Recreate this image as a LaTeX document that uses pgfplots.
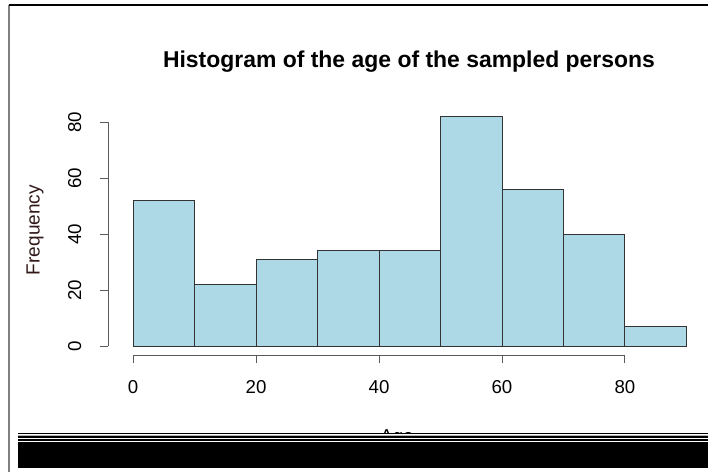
\documentclass[border=0pt]{standalone}
\usepackage{pgfplots}
\pgfplotsset{compat=1.18}
\usepackage{fontspec}
\setmainfont{Liberation Sans}
\definecolor{lightblue}{RGB}{173,216,230}
\definecolor{axgray}{RGB}{90,90,90}
\definecolor{freqcol}{RGB}{50,25,25}
\begin{document}
\begin{tikzpicture}[x=0.75pt,y=0.75pt]
\useasboundingbox (0,0) rectangle (708,472);
\fill[white] (0,0) rectangle (708,472);
\begin{axis}[
  at={(81pt,87.75pt)}, anchor=south west,
  scale only axis, width=450pt, height=186pt,
  xmin=-4.07, xmax=93.5, ymin=-3.2, ymax=85.4,
  axis x line*=bottom, axis y line*=left,
  axis line style={draw=none},
  xtick={0,20,40,60,80}, ytick={0,20,40,60,80},
  tick align=outside, major tick length=6pt,
  tick style={axgray, line width=0.75pt},
  /pgf/number format/assume math mode=true,
  tick label style={font=\fontsize{14}{16}\selectfont},
  xticklabel style={yshift=-9.5pt},
  yticklabel style={rotate=90, anchor=south, yshift=10.5pt},
  clip=false,
]
\addplot[ybar interval, fill=lightblue, draw=black!80, line width=0.75pt]
  coordinates {(0,52) (10,22) (20,31) (30,34) (40,34) (50,82) (60,56) (70,40) (80,7) (90,7)};
\draw[axgray, line width=0.75pt] (axis cs:0,-3.2) -- (axis cs:80,-3.2);
\draw[axgray, line width=0.75pt] (axis cs:-4.07,0) -- (axis cs:-4.07,80);
\end{axis}
\node[font=\fontsize{17.2}{20}\selectfont\bfseries] at (409,410) {Histogram of the age of the sampled persons};
\node[rotate=90, text=freqcol, font=\fontsize{14.3}{16}\selectfont] at (35,242) {Frequency};
\node[anchor=base, font=\fontsize{14}{16}\selectfont] at (397,29.6) {Age};
% frame
\draw[gray, line width=1.5pt] (8.5,0) -- (8.5,467);
\draw[black, line width=1.2pt] (8.5,467) -- (708,467);
% stripes and band at the bottom
\fill[white] (18,30) rectangle (708,37.5);
\fill[black] (18,37.5) rectangle (708,39);
\fill[gray!60] (18,35.5) rectangle (708,36.5);
\fill[black] (18,34) rectangle (708,35.5);
\fill[black] (18,31) rectangle (708,32.5);
\fill[black] (18,4) rectangle (708,30);
\end{tikzpicture}
\end{document}
